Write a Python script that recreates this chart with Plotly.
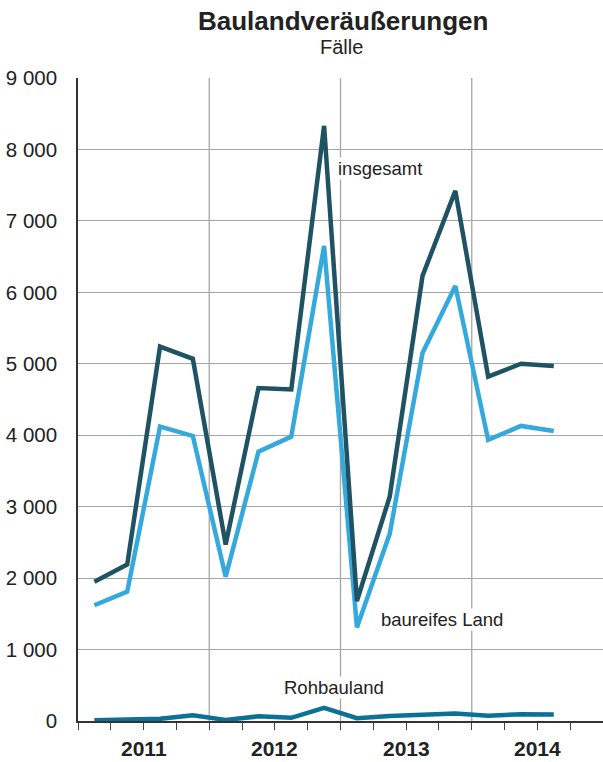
import plotly.graph_objects as go

years = ["2011", "2012", "2013", "2014"]
quarters = list(range(15))  # 2011 Q1 .. 2014 Q3
insgesamt = [1950, 2190, 5240, 5070, 2470, 4660, 4640, 8330, 1680, 3140, 6230, 7420, 4820, 5000, 4970]
baureif = [1620, 1810, 4120, 3990, 2020, 3770, 3980, 6650, 1310, 2620, 5150, 6090, 3935, 4130, 4060]
rohbau = [10, 15, 30, 80, 15, 65, 45, 185, 40, 70, 80, 105, 75, 95, 90]

x = [q + 0.5 for q in quarters]

fig = go.Figure()
fig.add_trace(go.Scatter(x=x, y=rohbau, mode="lines", line=dict(color="#0b7196", width=4.5), name="Rohbauland"))
fig.add_trace(go.Scatter(x=x, y=baureif, mode="lines", line=dict(color="#36a9dc", width=4.5), name="baureifes Land"))
fig.add_trace(go.Scatter(x=x, y=insgesamt, mode="lines", line=dict(color="#1f5363", width=4.5), name="insgesamt"))

# year gridlines
for b in [4, 8, 12]:
    fig.add_shape(type="line", x0=b, x1=b, y0=0, y1=9000, xref="x", yref="y",
                  line=dict(color="#a6a6a6", width=1.3), layer="below")

font = "Liberation Sans, Arial, Helvetica, sans-serif"
for i, yr in enumerate(years):
    fig.add_annotation(x=4 * i + 2, y=0, yref="y", yshift=-27, text="<b>" + yr + "</b>",
                       showarrow=False, font=dict(size=21, color="#222", family=font))

labels = [("insgesamt", 7.88, 7740, "left"), ("baureifes Land", 9.2, 1414, "left"), ("Rohbauland", 7.8, 462, "center")]
for t, lx, ly, al in labels:
    fig.add_annotation(x=lx, y=ly, text=t, showarrow=False, xanchor=al, bgcolor="white",
                       font=dict(size=18.5, color="#222", family=font), borderpad=0)

fig.add_annotation(x=343, y=21, text="<b>Baulandveräußerungen</b>",
                   showarrow=False, font=dict(size=26, color="#222", family=font))
fig.add_annotation(x=341, y=47, text="Fälle", showarrow=False, font=dict(size=20, color="#222", family=font))

fig.update_layout(
    width=603, height=762,
    margin=dict(l=78, r=0, t=78, b=41),
    plot_bgcolor="white", paper_bgcolor="white",
    showlegend=False,
    separators=", ",
    font=dict(family=font, color="#222"),
)
# place title annotations in pixel space via paper coords
plot_w = 603 - 78
plot_h = 762 - 78 - 41
for ann in fig.layout.annotations[-2:]:
    px, py = ann.x, ann.y
    ann.update(xref="paper", yref="paper", x=(px - 78) / plot_w, y=(762 - 41 - py) / plot_h,
               xanchor="center", yanchor="middle")

fig.update_xaxes(range=[0, 16], tick0=0, dtick=1, ticks="outside", ticklen=7, tickcolor="#444", tickwidth=1,
                 showticklabels=False, showgrid=False, zeroline=False, showline=True, linecolor="#333", linewidth=2)
fig.update_yaxes(range=[0, 9000], dtick=1000, tickformat=",d", showgrid=True, gridcolor="#a6a6a6", gridwidth=1.3,
                 zeroline=False, showline=True, linecolor="#333", linewidth=1.5, ticks="",
                 tickfont=dict(size=20.5, color="#222", family=font), ticklabelstandoff=15)

fig.write_html("out.html", config={"displayModeBar": False})
with open("out.html", "r", encoding="utf-8") as f:
    html = f.read()
html = html.replace("<head>", "<head><style>html,body{margin:0;padding:0;overflow:hidden}</style>", 1)
with open("out.html", "w", encoding="utf-8") as f:
    f.write(html)
